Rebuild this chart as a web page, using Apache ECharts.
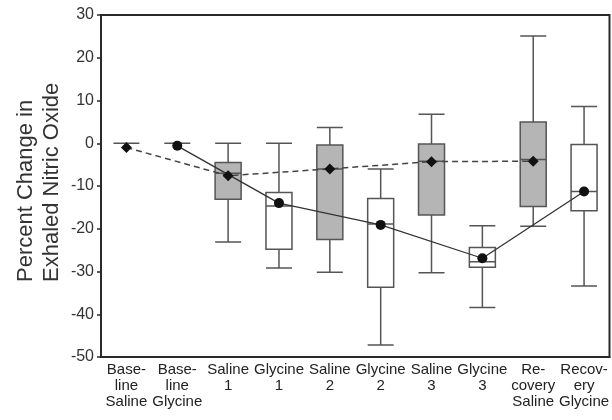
<!DOCTYPE html>
<html><head><meta charset="utf-8">
<script src="https://cdn.jsdelivr.net/npm/echarts@6/dist/echarts.min.js"></script>
<style>html,body{margin:0;padding:0;background:#fff}#c{width:612px;height:420px}</style>
</head><body><div id="c"></div>
<script>
const categories = ["Base-\nline\nSaline","Base-\nline\nGlycine","Saline\n1","Glycine\n1","Saline\n2","Glycine\n2","Saline\n3","Glycine\n3","Re-\ncovery\nSaline","Recov-\nery\nGlycine"];
// [min, Q1, median, Q3, max]
const boxes = [
  [0,0,0,0,0],
  [0,0,0,0,0],
  [-23.1,-13.1,-7.0,-4.5,0],
  [-29.2,-24.8,-14.7,-11.5,0],
  [-30.2,-22.5,-6.0,-0.4,3.7],
  [-47.2,-33.7,-18.9,-12.9,-6.0],
  [-30.3,-16.8,-4.2,-0.2,6.8],
  [-38.4,-29.0,-27.7,-24.4,-19.3],
  [-19.4,-14.8,-3.8,5.0,25.1],
  [-33.4,-15.8,-11.3,-0.3,8.6]
];
const isSaline = [true,false,true,false,true,false,true,false,true,false];
const salineMeans = [-1.0,null,-7.6,null,-6.0,null,-4.3,null,-4.2,null];
const glycineMeans = [null,-0.6,null,-14.0,null,-19.1,null,-26.9,null,-11.3];
const yTicks = {min:-50, max:30, interval:10};

const chart = echarts.init(document.getElementById('c'), null, {renderer:'canvas'});
const font = 'Liberation Sans, Arial, sans-serif';
chart.setOption({
  animation:false,
  backgroundColor:'#fff',
  grid:{left:101, right:1, top:15, bottom:63, show:true, borderColor:'#2a2a2a', borderWidth:2},
  xAxis:{type:'category', data:categories,
    axisLine:{show:true, onZero:false, lineStyle:{color:'#2a2a2a', width:2}},
    axisTick:{show:false},
    axisLabel:{fontFamily:font, fontSize:15, color:'#222', lineHeight:16, margin:5, interval:0}},
  yAxis:{type:'value', min:yTicks.min, max:yTicks.max, interval:yTicks.interval,
    splitLine:{show:false},
    axisLine:{show:true, lineStyle:{color:'#2a2a2a', width:2}},
    axisTick:{show:true, length:4, lineStyle:{color:'#2a2a2a', width:1.5}},
    axisLabel:{fontFamily:font, fontSize:16, color:'#333', margin:7}},
  graphic:[{type:'text', x:38.5, y:282, rotation:Math.PI/2, style:{
    text:'Percent Change in\nExhaled Nitric Oxide', font:'22px '+font, fill:'#333',
    textAlign:'left', textVerticalAlign:'middle', lineHeight:26}}],
  series:[
    {type:'boxplot', boxWidth:[26,26], z:2,
     data: boxes.map((b,i)=>({value:b, itemStyle:{color: isSaline[i] ? '#b5b5b5' : '#ffffff', borderColor:'#555', borderWidth:1.5}}))},
    {type:'line', data:salineMeans, connectNulls:true, z:5,
     symbol:'diamond', symbolSize:11, itemStyle:{color:'#111'},
     lineStyle:{color:'#444', width:1.5, type:[6,4]}},
    {type:'line', data:glycineMeans, connectNulls:true, z:5,
     symbol:'circle', symbolSize:10, itemStyle:{color:'#111'},
     lineStyle:{color:'#333', width:1.3}}
  ]
});
</script></body></html>
